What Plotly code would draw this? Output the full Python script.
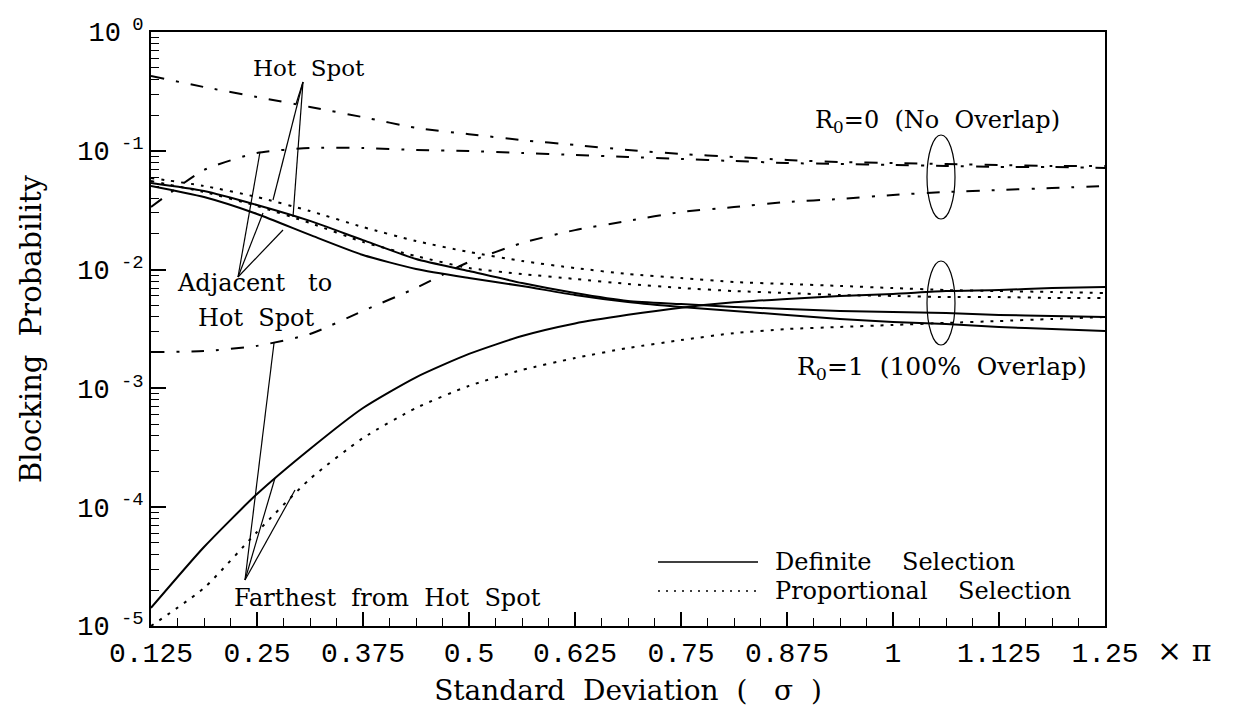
import plotly.graph_objects as go

# ---------------- data ----------------
sigma = [0.125, 0.1875, 0.25, 0.3125, 0.375, 0.4375, 0.5, 0.5625, 0.625, 0.6875,
         0.75, 0.8125, 0.875, 0.9375, 1.0, 1.0625, 1.125, 1.1875, 1.25]

# R0 = 0 (No Overlap), dash-dot curves
r0_hot = [0.426, 0.344, 0.284, 0.234, 0.192, 0.156, 0.138, 0.123, 0.112, 0.1016,
          0.094, 0.0887, 0.0837, 0.0805, 0.0789, 0.0774, 0.0759, 0.0745, 0.0745]
r0_adj = [0.0336, 0.0689, 0.0958, 0.1056, 0.1056, 0.1016, 0.0996, 0.0958, 0.0922, 0.0887,
          0.0853, 0.082, 0.0789, 0.0774, 0.0759, 0.0745, 0.0731, 0.0731, 0.0717]
r0_far = [0.00202, 0.00206, 0.00228, 0.00287, 0.00449, 0.0070, 0.01159, 0.01675, 0.0215, 0.0257,
          0.0305, 0.0336, 0.0371, 0.0393, 0.0425, 0.045, 0.0468, 0.0486, 0.0506]

# R0 = 1 (100% Overlap), definite selection (solid)
def_hot = [0.0536, 0.0459, 0.035, 0.0257, 0.0177, 0.01228, 0.00973, 0.00771, 0.00635, 0.00544,
           0.00513, 0.00484, 0.00466, 0.00449, 0.0044, 0.00431, 0.00415, 0.00407, 0.00399]
def_adj = [0.0506, 0.0408, 0.0294, 0.0196, 0.01327, 0.01012, 0.0085, 0.00728, 0.00611, 0.00533,
           0.00484, 0.00449, 0.00415, 0.00384, 0.00362, 0.00348, 0.00329, 0.00316, 0.00304]
def_far = [1.42e-5, 4.62e-5, 1.29e-4, 3.09e-4, 6.84e-4, 1.24e-3, 1.95e-3, 2.76e-3, 3.52e-3, 4.16e-3,
           4.78e-3, 5.30e-3, 5.66e-3, 6.0e-3, 6.24e-3, 6.6e-3, 6.73e-3, 7.0e-3, 7.14e-3]

# R0 = 1 (100% Overlap), proportional selection (dotted)
pro_hot = [0.059, 0.0506, 0.0408, 0.0311, 0.0228, 0.0174, 0.01406, 0.01181, 0.01031, 0.00918,
           0.0085, 0.00787, 0.00757, 0.00728, 0.0070, 0.00673, 0.0066, 0.00648, 0.00635]
pro_adj = [0.0557, 0.045, 0.0343, 0.0247, 0.0171, 0.013, 0.01031, 0.00918, 0.00834, 0.00757,
           0.0070, 0.0066, 0.00635, 0.00611, 0.0060, 0.00588, 0.00588, 0.00577, 0.00577]
pro_far = [1.0e-5, 2.09e-5, 6.18e-5, 1.73e-4, 3.82e-4, 6.84e-4, 1.05e-3, 1.43e-3, 1.80e-3, 2.19e-3,
           2.55e-3, 2.92e-3, 3.16e-3, 3.29e-3, 3.42e-3, 3.56e-3, 3.69e-3, 3.84e-3, 3.99e-3]

x_tickvals = [0.125, 0.25, 0.375, 0.5, 0.625, 0.75, 0.875, 1.0, 1.125, 1.25]
x_ticktext = ["0.125", "0.25", "0.375", "0.5", "0.625", "0.75", "0.875", "1", "1.125", "1.25"]
y_tickvals = [1e-5, 1e-4, 1e-3, 1e-2, 1e-1, 1e0]
y_ticktext = ["10<sup>\u00a0-5</sup>", "10<sup>\u00a0-4</sup>", "10<sup>\u00a0-3</sup>",
              "10<sup>\u00a0-2</sup>", "10<sup>\u00a0-1</sup>", "10<sup>\u00a00</sup>"]
y_minor = [k * 10.0 ** e for e in range(-5, 0) for k in range(2, 10)]

# ---------------- styling ----------------
SERIF = "DejaVu Serif"
MONO = "Liberation Mono"
DASHDOT = "13px,12px,3px,12px"
DOTTED = "3px,7px"
NB = "\u00a0"

W, H = 1235, 712
L, R, T, B = 151, 130, 32, 86
PW, PH = W - L - R, H - T - B


def px(x):
    return (x - L) / PW


def py(y):
    return (H - B - y) / PH


fig = go.Figure()

series = [
    ("R0=0 hot spot", r0_hot, DASHDOT), ("R0=0 adjacent", r0_adj, DASHDOT),
    ("R0=0 farthest", r0_far, DASHDOT),
    ("Definite hot spot", def_hot, "solid"), ("Definite adjacent", def_adj, "solid"),
    ("Definite farthest", def_far, "solid"),
    ("Proportional hot spot", pro_hot, DOTTED), ("Proportional adjacent", pro_adj, DOTTED),
    ("Proportional farthest", pro_far, DOTTED),
]
for name, vals, dash in series:
    fig.add_trace(go.Scatter(
        x=sigma, y=vals, mode="lines", name=name,
        line=dict(color="black", width=2, dash=dash, shape="spline", smoothing=0.6),
        showlegend=False, hoverinfo="skip"))

shapes = []
annots = []


def seg(x0, y0, x1, y1):
    shapes.append(dict(type="line", xref="paper", yref="paper",
                       x0=px(x0), y0=py(y0), x1=px(x1), y1=py(y1),
                       line=dict(color="black", width=1.2)))


# callout lines
for tx, ty in [(296, 104), (273, 200), (293, 217)]:
    seg(303, 82, tx, ty)
for tx, ty in [(260, 152), (263, 213), (283, 230)]:
    seg(238, 277, tx, ty)
for tx, ty in [(274, 343), (275, 478), (295, 490)]:
    seg(245, 580, tx, ty)

# ellipses
for cy in [177, 303]:
    shapes.append(dict(type="circle", xref="paper", yref="paper",
                       x0=px(927), x1=px(955), y0=py(cy + 42), y1=py(cy - 42),
                       line=dict(color="black", width=1.2)))

# legend samples
shapes.append(dict(type="line", xref="paper", yref="paper", x0=px(658), x1=px(758),
                   y0=py(562), y1=py(562), line=dict(color="black", width=1.5)))
shapes.append(dict(type="line", xref="paper", yref="paper", x0=px(658), x1=px(758),
                   y0=py(591), y1=py(591), line=dict(color="black", width=1.5, dash="2px,6px")))


def text(x, y, s, size=23, anchor="center", family=SERIF):
    annots.append(dict(xref="paper", yref="paper", x=px(x), y=py(y), text=s,
                       showarrow=False, xanchor=anchor, yanchor="middle",
                       font=dict(family=family, size=size, color="black")))


text(309, 68, "Hot" + NB * 2 + "Spot")
text(254, 283, "Adjacent" + NB * 3 + "to", size=24)
text(256, 318, "Hot" + NB * 2 + "Spot", size=24)
text(387, 598, "Farthest" + NB * 2 + "from" + NB * 2 + "Hot" + NB * 2 + "Spot", size=24)
text(813, 122, "R<sub>0</sub>=0" + NB * 2 + "(No" + NB * 2 + "Overlap)", size=24, anchor="left")
text(795, 368, "R<sub>0</sub>=1" + NB * 2 + "(100%" + NB * 2 + "Overlap)", size=25, anchor="left")
text(773, 562, "Definite" + NB * 4 + "Selection", size=24, anchor="left")
text(773, 591, "Proportional" + NB * 4 + "Selection", size=24, anchor="left")
text(1184, 650, "\u00d7" + NB + "\u03c0", size=30, family="DejaVu Serif")

fig.update_layout(
    width=W, height=H, autosize=False,
    margin=dict(l=L, r=R, t=T, b=B, pad=0),
    paper_bgcolor="white", plot_bgcolor="white",
    font=dict(family=SERIF, size=24, color="black"),
    shapes=shapes, annotations=annots,
    xaxis=dict(
        range=[0.125, 1.25], tickmode="array", tickvals=x_tickvals, ticktext=x_ticktext,
        ticks="inside", ticklen=14, tickwidth=1.5, tickcolor="black",
        minor=dict(tick0=0.125, dtick=0.03125, ticks="inside", ticklen=8,
                   tickwidth=1.2, tickcolor="black", showgrid=False),
        showline=True, linewidth=1.8, linecolor="black", mirror=True,
        showgrid=False, zeroline=False,
        tickfont=dict(family=MONO, size=28, color="black"),
        title=dict(text="Standard" + NB * 2 + "Deviation" + NB * 2 + "(" + NB * 3 + "\u03c3" + NB * 2 + ")",
                   font=dict(family=SERIF, size=28, color="black"), standoff=12),
    ),
    yaxis=dict(
        type="log", range=[-5, 0], tickmode="array", tickvals=y_tickvals, ticktext=y_ticktext,
        ticks="inside", ticklen=15, tickwidth=1.5, tickcolor="black",
        minor=dict(tickmode="array", tickvals=y_minor, ticks="inside", ticklen=8,
                   tickwidth=1.2, tickcolor="black", showgrid=False),
        showline=True, linewidth=1.8, linecolor="black", mirror=True,
        showgrid=False, zeroline=False,
        tickfont=dict(family=MONO, size=27, color="black"),
        title=dict(text="Blocking" + NB * 2 + "Probability",
                   font=dict(family=SERIF, size=29, color="black"), standoff=27),
    ),
)

fig.write_html("out.html")
